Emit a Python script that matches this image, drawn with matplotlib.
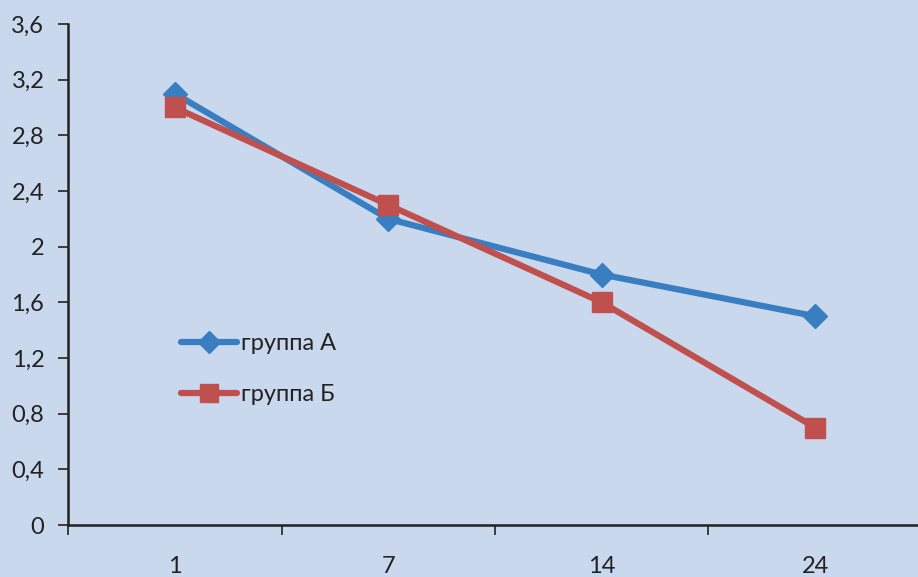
import matplotlib

matplotlib.use("Agg")
import matplotlib.pyplot as plt

CATEGORIES = ["1", "7", "14", "24"]
GROUP_A = [3.1, 2.2, 1.8, 1.5]
GROUP_B = [3.0, 2.3, 1.6, 0.7]
Y_TICKS = [0, 0.4, 0.8, 1.2, 1.6, 2.0, 2.4, 2.8, 3.2, 3.6]
Y_LABELS = ["0", "0,4", "0,8", "1,2", "1,6", "2", "2,4", "2,8", "3,2", "3,6"]

BG = "#CAD8EE"
BLUE = "#3A7EC2"
RED = "#C0504D"


def main() -> None:
    plt.rcParams.update({"font.family": ["Lato", "DejaVu Sans"]})

    fig = plt.figure(figsize=(9.18, 5.77), dpi=100)
    fig.patch.set_facecolor(BG)
    W, H = 918, 577
    left, right, bottom, top = 68, 922, 577 - 525, 577 - 24
    ax = fig.add_axes([left / W, bottom / H, (right - left) / W, (top - bottom) / H])
    ax.set_facecolor(BG)

    xs = list(range(len(CATEGORIES)))
    ax.plot(xs, GROUP_A, color=BLUE, linewidth=4.5, marker="D", markersize=12,
            label="группа А", solid_capstyle="round", zorder=3)
    ax.plot(xs, GROUP_B, color=RED, linewidth=4.5, marker="s", markersize=14,
            label="группа Б", solid_capstyle="round", zorder=4)

    ax.set_xlim(-0.5, len(CATEGORIES) - 0.5)
    ax.set_ylim(0, 3.6)
    ax.set_yticks(Y_TICKS)
    ax.set_yticklabels(Y_LABELS)

    ax.set_xticks([i - 0.5 for i in range(len(CATEGORIES) + 1)])
    ax.set_xticklabels([])
    ax.set_xticks(xs, minor=True)
    ax.set_xticklabels(CATEGORIES, minor=True)
    ax.tick_params(axis="x", which="major", direction="out", length=7, width=1.2, color="#222222")
    ax.tick_params(axis="x", which="minor", length=0, pad=22, labelsize=17, labelcolor="#222222")
    ax.tick_params(axis="y", direction="out", length=7, width=1.2, pad=10, labelsize=17,
                   color="#222222", labelcolor="#222222")

    for side in ("top", "right"):
        ax.spines[side].set_visible(False)
    for side in ("left", "bottom"):
        ax.spines[side].set_linewidth(1.8)
        ax.spines[side].set_color("#222222")

    ax.legend(frameon=False, loc="upper left", bbox_to_anchor=(0.132, 0.383), fontsize=17,
              borderpad=0, borderaxespad=0, handlelength=2.4, handletextpad=0.15,
              labelspacing=1.27, labelcolor="#222222", markerscale=0.9)

    fig.savefig("out.png", dpi=100, facecolor=BG)
    plt.close(fig)


if __name__ == "__main__":
    main()
